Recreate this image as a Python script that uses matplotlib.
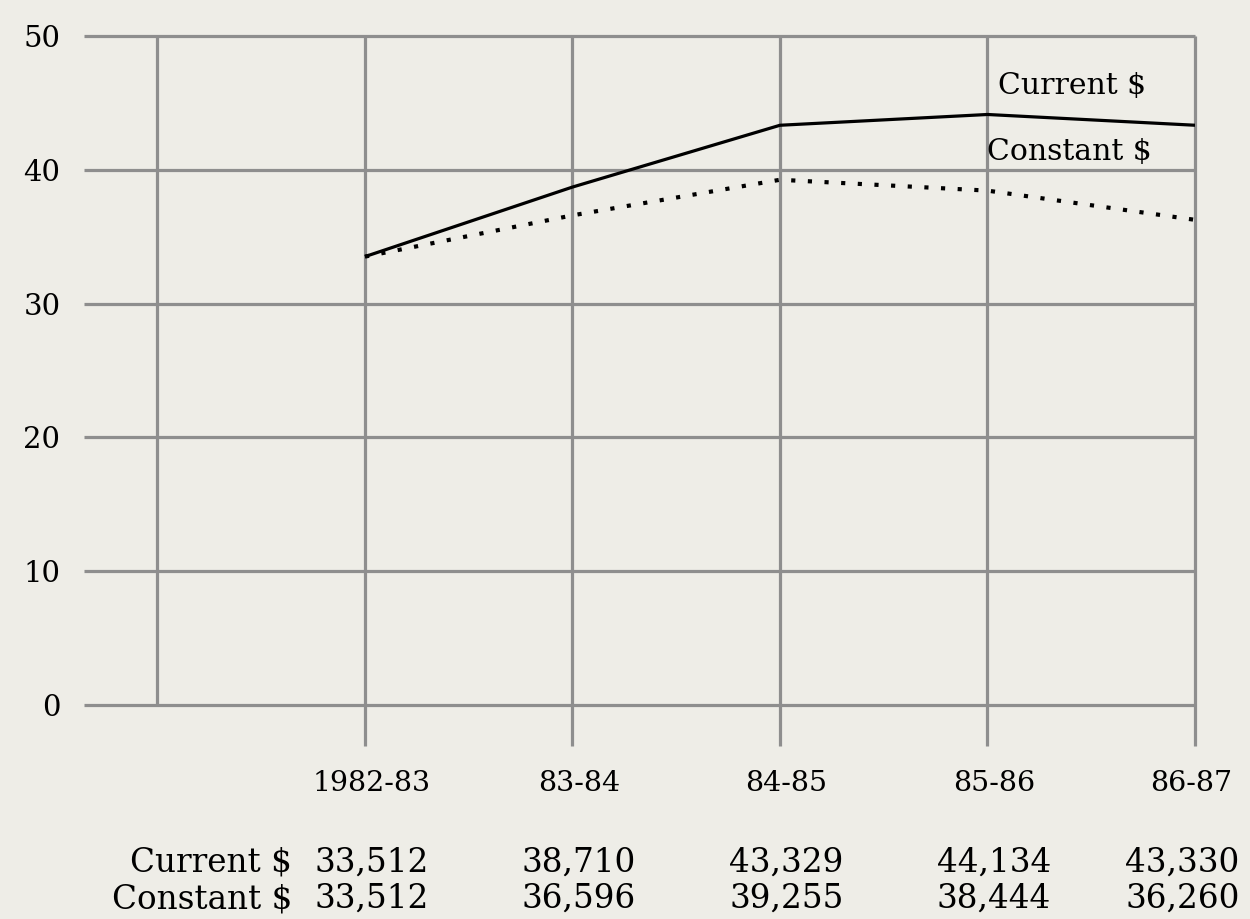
import matplotlib
matplotlib.use('Agg')
import matplotlib.pyplot as plt

# data (salaries in dollars, plotted in thousands)
years = ['1982-83', '83-84', '84-85', '85-86', '86-87']
current = [33512, 38710, 43329, 44134, 43330]
constant = [33512, 36596, 39255, 38444, 36260]
yticks = [0, 10, 20, 30, 40, 50]

plt.rcParams['font.family'] = 'DejaVu Serif'
bg = '#eeede7'
grid_c = '#8e8e8e'

fig = plt.figure(figsize=(12.5, 9.19), dpi=100, facecolor=bg)
ax = fig.add_axes([84/1250, 214/919, 1111/1250, 669/919])
ax.set_facecolor(bg)

x = list(range(len(years)))
x_left = -1.354
ax.set_xlim(x_left, 4)
ax.set_ylim(0, 50)

# grid
ax.hlines(yticks, x_left, 4, color=grid_c, lw=2.3, zorder=1, clip_on=False)
ax.vlines(-1, 0, 50, color=grid_c, lw=2.3, zorder=1, clip_on=False)
ax.vlines(x, -3.1, 50, color=grid_c, lw=2.3, zorder=1, clip_on=False)

# series
ax.plot(x, [v / 1000 for v in current], color='black', lw=2.3, zorder=3,
        solid_capstyle='butt')
ax.plot(x, [v / 1000 for v in constant], color='black', lw=3, zorder=3,
        linestyle=(0, (1, 3)))

ax.text(3.05, 46.3, 'Current $', fontsize=21.5, va='center', ha='left')
ax.text(3.0, 41.3, 'Constant $', fontsize=21.5, va='center', ha='left')

# axes styling
for s in ax.spines.values():
    s.set_visible(False)
ax.set_xticks([])
ax.set_yticks(yticks)
ax.set_yticklabels([str(t) for t in yticks], fontsize=21)
ax.tick_params(axis='y', length=0, pad=17)

# x labels and table below
for i, yr in enumerate(years):
    xi, ha = (4.18, 'right') if i == len(years) - 1 else (i + 0.03, 'center')
    ax.text(xi, -5.9, yr, fontsize=20.5, ha=ha, va='center')

ax.text(-0.35, -11.8, 'Current $', fontsize=23.5, ha='right', va='center')
ax.text(-0.35, -14.5, 'Constant $', fontsize=23.5, ha='right', va='center')
for i in x:
    xi = i + 0.03 if i < len(x) - 1 else 3.94
    ax.text(xi, -11.8, f'{current[i]:,}', fontsize=23.5, ha='center', va='center')
    ax.text(xi, -14.5, f'{constant[i]:,}', fontsize=23.5, ha='center', va='center')

fig.savefig('out.png', dpi=100, facecolor=bg)
